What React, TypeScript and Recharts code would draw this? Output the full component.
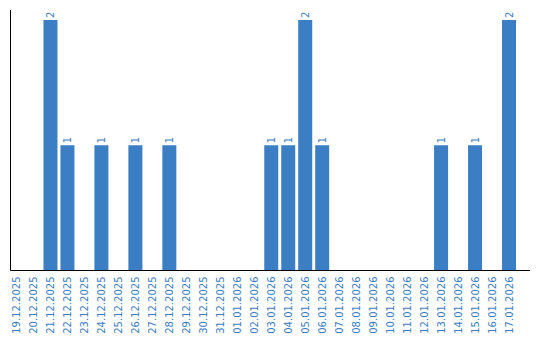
import React from "react";
import { BarChart, Bar, XAxis, YAxis, LabelList } from "recharts";

const dates = [
  "19.12.2025", "20.12.2025", "21.12.2025", "22.12.2025", "23.12.2025",
  "24.12.2025", "25.12.2025", "26.12.2025", "27.12.2025", "28.12.2025",
  "29.12.2025", "30.12.2025", "31.12.2025", "01.01.2026", "02.01.2026",
  "03.01.2026", "04.01.2026", "05.01.2026", "06.01.2026", "07.01.2026",
  "08.01.2026", "09.01.2026", "10.01.2026", "11.01.2026", "12.01.2026",
  "13.01.2026", "14.01.2026", "15.01.2026", "16.01.2026", "17.01.2026",
];

const counts = [
  0, 0, 2, 1, 0, 1, 0, 1, 0, 1,
  0, 0, 0, 0, 0, 1, 1, 2, 1, 0,
  0, 0, 0, 0, 0, 1, 0, 1, 0, 2,
];

const data = dates.map((d, i) => ({ date: d, count: counts[i] }));

const BLUE = "#3b7ec3";
const FONT = "DejaVu Sans, Verdana, sans-serif";

const DateTick = ({ x, y, payload }: any) => (
  <g transform={`translate(${x},${y})`}>
    <text
      transform="rotate(-90)"
      x={-6}
      y={0}
      dy="0.35em"
      textAnchor="end"
      fill={BLUE}
      fontSize={10}
      fontFamily={FONT}
    >
      {payload.value}
    </text>
  </g>
);

const TopLabel = ({ x, y, width, value }: any) => {
  if (!value) return null;
  const cx = x + width / 2;
  return (
    <text
      transform={`translate(${cx},${y - 2}) rotate(-90)`}
      dy="0.35em"
      textAnchor="start"
      fill={BLUE}
      fontSize={10}
      fontFamily={FONT}
    >
      {value}
    </text>
  );
};

export default function App() {
  return (
    <div style={{ position: "absolute", left: 0, top: 0, background: "#fff" }}>
      <BarChart
        width={540}
        height={340}
        data={data}
        margin={{ top: 10, right: 10, bottom: 0, left: 9.5 }}
        barCategoryGap={0}
      >
        <XAxis
          dataKey="date"
          interval={0}
          height={69.5}
          tick={<DateTick />}
          tickLine={false}
          tickSize={0}
          tickMargin={0}
          axisLine={{ stroke: "#000" }}
          padding={{ left: -2, right: 12 }}
        />
        <YAxis
          width={1}
          domain={[0, 2]}
          tick={false}
          tickLine={false}
          axisLine={{ stroke: "#000" }}
          padding={{ top: 10, bottom: 0 }}
        />
        <Bar dataKey="count" fill={BLUE} barSize={14} isAnimationActive={false}>
          <LabelList dataKey="count" content={<TopLabel />} />
        </Bar>
      </BarChart>
    </div>
  );
}
